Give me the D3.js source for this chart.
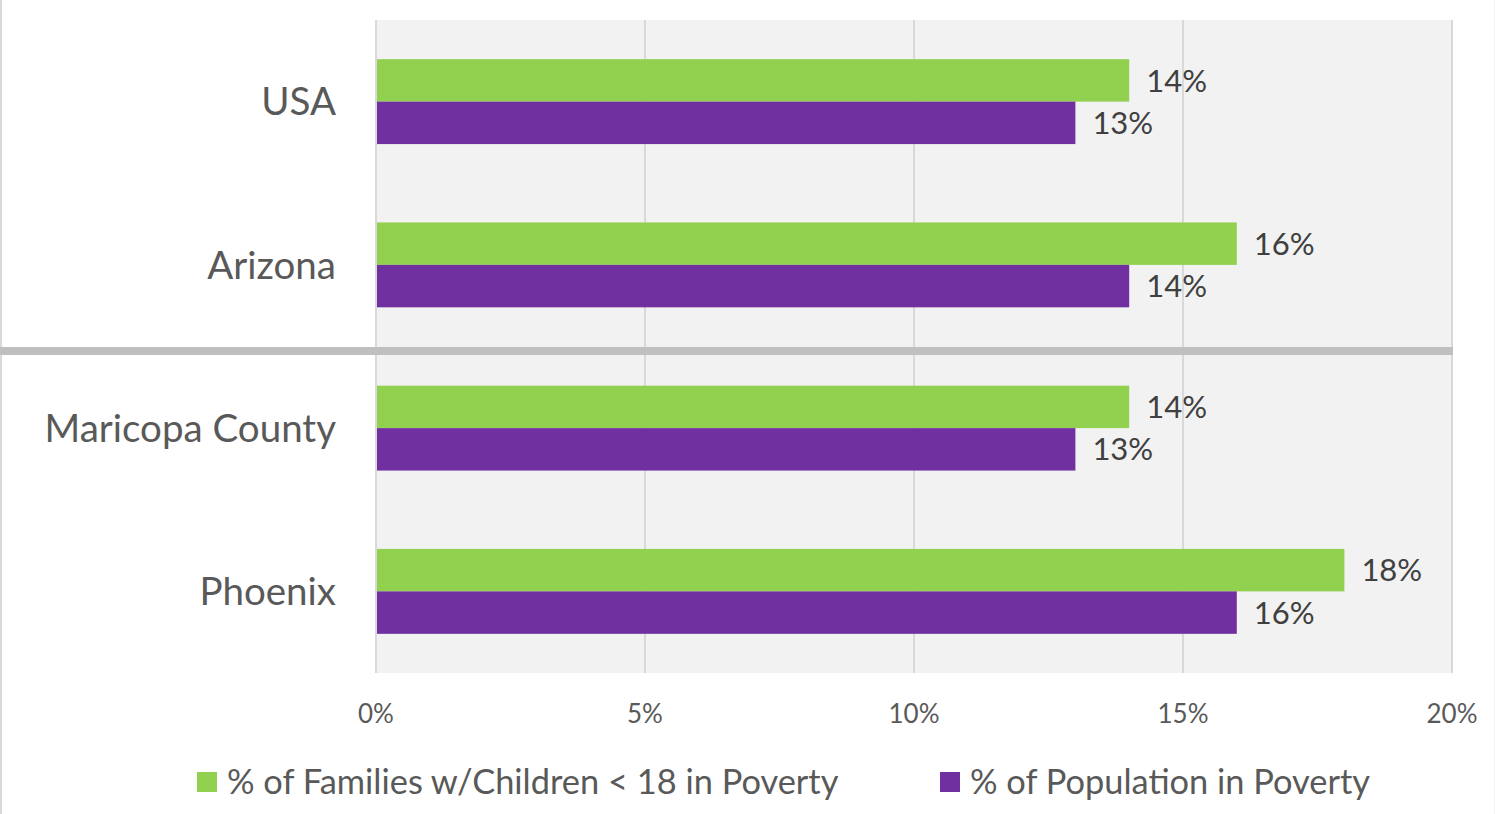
<!DOCTYPE html>
<html>
<head>
<meta charset="utf-8">
<script src="https://cdn.jsdelivr.net/npm/d3@7"></script>
<style>
  html, body { margin: 0; padding: 0; background: #fff; }
  svg { display: block; }
  text { font-family: Lato, "Open Sans", sans-serif; }
</style>
</head>
<body>
<svg id="chart" width="1495" height="814"></svg>
<script>
// Poverty rates by geography
const categories = ["USA", "Arizona", "Maricopa County", "Phoenix"];
const seriesNames = ["% of Families w/Children < 18 in Poverty", "% of Population in Poverty"];
const familiesPoverty = [14, 16, 14, 18];
const populationPoverty = [13, 14, 13, 16];
const tickValues = [0, 5, 10, 15, 20];
const colors = ["#92d050", "#7030a0"];

const svg = d3.select("#chart");
const W = 1495, H = 814;
const plot = { left: 376, right: 1452, top: 20, bottom: 673 };

// outer frame lines
svg.append("rect").attr("x", 0).attr("y", 0).attr("width", 2).attr("height", H).attr("fill", "#d9d9d9");
svg.append("rect").attr("x", W - 1).attr("y", 0).attr("width", 1).attr("height", H).attr("fill", "#f0f0f0");

const x = d3.scaleLinear().domain([0, 20]).range([plot.left, plot.right]);
const y = d3.scaleBand().domain(categories).range([plot.top, plot.bottom]).paddingInner(0.48).paddingOuter(0.24);
const ySub = d3.scaleBand().domain([0, 1]).range([0, y.bandwidth()]);

// plot background
svg.append("rect")
  .attr("x", plot.left).attr("y", plot.top)
  .attr("width", plot.right - plot.left).attr("height", plot.bottom - plot.top)
  .attr("fill", "#f2f2f2");

// vertical gridlines
svg.append("g").selectAll("line").data(tickValues).join("line")
  .attr("x1", d => x(d)).attr("x2", d => x(d))
  .attr("y1", plot.top).attr("y2", plot.bottom)
  .attr("stroke", "#d9d9d9").attr("stroke-width", 2);

// bars
const rows = categories.map((c, i) => ({ cat: c, vals: [familiesPoverty[i], populationPoverty[i]] }));
const groups = svg.append("g").selectAll("g").data(rows).join("g")
  .attr("transform", d => `translate(0,${y(d.cat)})`);

groups.selectAll("rect").data(d => d.vals.map((v, k) => ({ v, k }))).join("rect")
  .attr("x", x(0) + 1)
  .attr("y", d => ySub(d.k))
  .attr("width", d => x(d.v) - x(0) - 1)
  .attr("height", ySub.bandwidth())
  .attr("fill", d => colors[d.k]);

groups.selectAll("text.val").data(d => d.vals.map((v, k) => ({ v, k }))).join("text")
  .attr("class", "val")
  .attr("x", d => x(d.v) + 17)
  .attr("y", d => ySub(d.k) + ySub.bandwidth() / 2)
  .attr("dy", "0.36em")
  .attr("font-size", 31)
  .attr("fill", "#404040")
  .text(d => d.v + "%");

// separator between national/state and local rows
const sepY = (y("Arizona") + y.bandwidth() + y("Maricopa County")) / 2 + 4.5;
svg.append("rect").attr("x", 0).attr("y", sepY - 4).attr("width", plot.right + 1).attr("height", 8).attr("fill", "#bfbfbf");

// category labels
svg.append("g").selectAll("text").data(categories).join("text")
  .attr("x", 336)
  .attr("y", d => y(d) + y.bandwidth() / 2)
  .attr("dy", "0.36em")
  .attr("text-anchor", "end")
  .attr("font-size", 38.5)
  .attr("fill", "#595959")
  .text(d => d);

// x axis tick labels
svg.append("g").selectAll("text").data(tickValues).join("text")
  .attr("x", d => x(d))
  .attr("y", 714)
  .attr("dy", "0.36em")
  .attr("text-anchor", "middle")
  .attr("font-size", 26)
  .attr("fill", "#595959")
  .text(d => d + "%");

// legend
const legendX = [197, 940];
const lg = svg.append("g").selectAll("g").data(seriesNames).join("g")
  .attr("transform", (d, i) => `translate(${legendX[i]},772)`);
lg.append("rect").attr("width", 20).attr("height", 20).attr("fill", (d, i) => colors[i]);
lg.append("text").attr("x", 30).attr("y", 10).attr("dy", "0.36em")
  .attr("font-size", 34.4).attr("fill", "#595959").text(d => d);
</script>
</body>
</html>
